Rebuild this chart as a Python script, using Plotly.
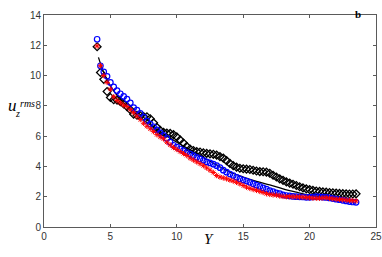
import plotly.graph_objects as go

# Wall-normal position grid for the marker series
y_pos = [4.0, 4.25, 4.5, 4.75, 5.0, 5.25, 5.5, 5.75, 6.0, 6.25, 6.5, 6.75, 7.0, 7.25, 7.5, 7.75,
         8.0, 8.25, 8.5, 8.75, 9.0, 9.25, 9.5, 9.75, 10.0, 10.25, 10.5, 10.75, 11.0, 11.25, 11.5, 11.75,
         12.0, 12.25, 12.5, 12.75, 13.0, 13.25, 13.5, 13.75, 14.0, 14.25, 14.5, 14.75, 15.0, 15.25, 15.5, 15.75,
         16.0, 16.25, 16.5, 16.75, 17.0, 17.25, 17.5, 17.75, 18.0, 18.25, 18.5, 18.75, 19.0, 19.25, 19.5, 19.75,
         20.0, 20.25, 20.5, 20.75, 21.0, 21.25, 21.5, 21.75, 22.0, 22.25, 22.5, 22.75, 23.0, 23.25, 23.5]

blue_circles = [12.4, 10.65, 10.25, 9.95, 9.55, 9.25, 9.0, 8.8, 8.62, 8.45, 8.2, 7.88, 7.72, 7.5, 7.25, 7.0,
                6.8, 6.62, 6.42, 6.22, 6.05, 5.85, 5.6, 5.4, 5.28, 5.15, 5.05, 4.92, 4.82, 4.72, 4.6, 4.5,
                4.4, 4.3, 4.23, 4.15, 4.05, 3.92, 3.75, 3.62, 3.5, 3.4, 3.28, 3.18, 3.1, 3.03, 2.95, 2.85,
                2.76, 2.68, 2.58, 2.5, 2.4, 2.33, 2.26, 2.2, 2.12, 2.08, 2.05, 2.02, 2.0, 1.99, 1.98, 1.96,
                1.96, 1.98, 2.0, 1.99, 1.97, 1.95, 1.92, 1.88, 1.84, 1.8, 1.76, 1.72, 1.68, 1.65, 1.63]

red_stars = [11.95, 10.65, 10.0, 9.55, 9.1, 8.6, 8.35, 8.2, 8.05, 7.95, 7.75, 7.55, 7.32, 7.1, 6.85, 6.65,
             6.48, 6.3, 6.1, 5.95, 5.82, 5.6, 5.42, 5.25, 5.12, 4.98, 4.85, 4.72, 4.55, 4.42, 4.3, 4.18,
             4.05, 3.9, 3.75, 3.6, 3.4, 3.3, 3.24, 3.18, 3.1, 3.03, 2.95, 2.85, 2.74, 2.63, 2.55, 2.48,
             2.42, 2.35, 2.28, 2.2, 2.15, 2.12, 2.1, 2.05, 2.02, 2.0, 2.0, 2.0, 1.99, 1.98, 1.97, 1.95,
             1.93, 1.91, 1.9, 1.9, 1.92, 1.93, 1.9, 1.86, 1.84, 1.82, 1.8, 1.78, 1.76, 1.74, 1.72]

black_diamonds = [11.9, 10.2, 9.75, 8.95, 8.55, 8.4, 8.38, 8.28, 8.12, 7.95, 7.75, 7.45, 7.38, 7.35, 7.3, 7.28,
                  7.15, 6.88, 6.58, 6.38, 6.25, 6.2, 6.18, 6.1, 5.95, 5.75, 5.55, 5.32, 5.15, 5.05, 4.98, 4.95,
                  4.9, 4.86, 4.83, 4.8, 4.75, 4.65, 4.55, 4.38, 4.2, 4.05, 3.95, 3.88, 3.85, 3.82, 3.8, 3.75,
                  3.7, 3.66, 3.65, 3.62, 3.55, 3.42, 3.3, 3.18, 3.08, 2.98, 2.9, 2.82, 2.74, 2.66, 2.58, 2.52,
                  2.47, 2.42, 2.38, 2.35, 2.32, 2.3, 2.28, 2.26, 2.24, 2.22, 2.2, 2.19, 2.18, 2.18, 2.19]

# Reference curve (solid black line)
line_y = [4.1, 4.5, 5.0, 5.5, 6.0, 7.0, 8.0, 9.0, 10.0, 11.0, 12.0, 13.0, 14.0, 15.0, 16.0, 17.0,
          18.0, 19.0, 20.0, 21.0, 22.0, 23.0, 23.5]
line_u = [11.2, 10.2, 9.3, 8.7, 8.2, 7.4, 6.75, 6.15, 5.6, 5.1, 4.6, 4.1, 3.63, 3.3, 3.02, 2.78,
          2.52, 2.3, 2.1, 1.97, 1.88, 1.8, 1.77]

x_ticks = [0, 5, 10, 15, 20, 25]
y_ticks = [0, 2, 4, 6, 8, 10, 12, 14]

W, H = 382, 257
ML, MR, MT, MB = 44, 6, 15, 30
PW, PH = W - ML - MR, H - MT - MB

def px(x):
    return (x - ML) / PW

def py(y):
    return (H - MB - y) / PH

fig = go.Figure()
fig.add_trace(go.Scatter(x=line_y, y=line_u, mode="lines", line=dict(color="black", width=1.3, shape="spline"),
                         showlegend=False))
fig.add_trace(go.Scatter(x=y_pos, y=black_diamonds, mode="markers",
                         marker=dict(symbol="diamond-open", size=6, color="black", line=dict(width=1.3, color="black")),
                         showlegend=False))
fig.add_trace(go.Scatter(x=y_pos, y=blue_circles, mode="markers",
                         marker=dict(symbol="circle-open", size=5.5, color="#0000ff", line=dict(width=1.2, color="#0000ff")),
                         showlegend=False))
fig.add_trace(go.Scatter(x=y_pos, y=red_stars, mode="markers",
                         marker=dict(symbol="asterisk-open", size=4.5, color="#ff0000", line=dict(width=1, color="#ff0000")),
                         showlegend=False))

axis_common = dict(showgrid=False, zeroline=False, showline=True, linecolor="#5a5a5a", linewidth=1,
                   mirror="ticks", ticks="inside", ticklen=3, tickcolor="#5a5a5a", automargin=False,
                   tickfont=dict(family="Liberation Sans, Arial, sans-serif", size=10, color="#333333"))
fig.update_xaxes(range=[0, 25], tickvals=x_ticks, **axis_common)
fig.update_yaxes(range=[0, 14], tickvals=y_ticks, **axis_common)

serif = "Liberation Serif, Times New Roman, serif"
fig.add_annotation(text="<i>u</i>", x=px(5.5), y=py(106), xref="paper", yref="paper", showarrow=False,
                   font=dict(family=serif, size=17, color="black"))
fig.add_annotation(text="<i>rms</i>", x=px(18), y=py(103.5), xref="paper", yref="paper", showarrow=False,
                   font=dict(family=serif, size=10, color="black"))
fig.add_annotation(text="<i>z</i>", x=px(12.5), y=py(114), xref="paper", yref="paper", showarrow=False,
                   font=dict(family=serif, size=10, color="black"))
fig.add_annotation(text="<i>Y</i>", x=px(209), y=py(249), xref="paper", yref="paper", showarrow=False,
                   font=dict(family=serif, size=15, color="black"))
fig.add_annotation(text="<b>b</b>", x=px(363), y=py(6), xref="paper", yref="paper", showarrow=False,
                   font=dict(family=serif, size=11, color="black"))

fig.update_layout(width=W, height=H, margin=dict(l=ML, r=MR, t=MT, b=MB, autoexpand=False),
                  paper_bgcolor="white", plot_bgcolor="white")
fig.write_html("out.html", config={"displayModeBar": False},
               post_script="document.body.style.margin='0';document.body.style.overflow='hidden';")
